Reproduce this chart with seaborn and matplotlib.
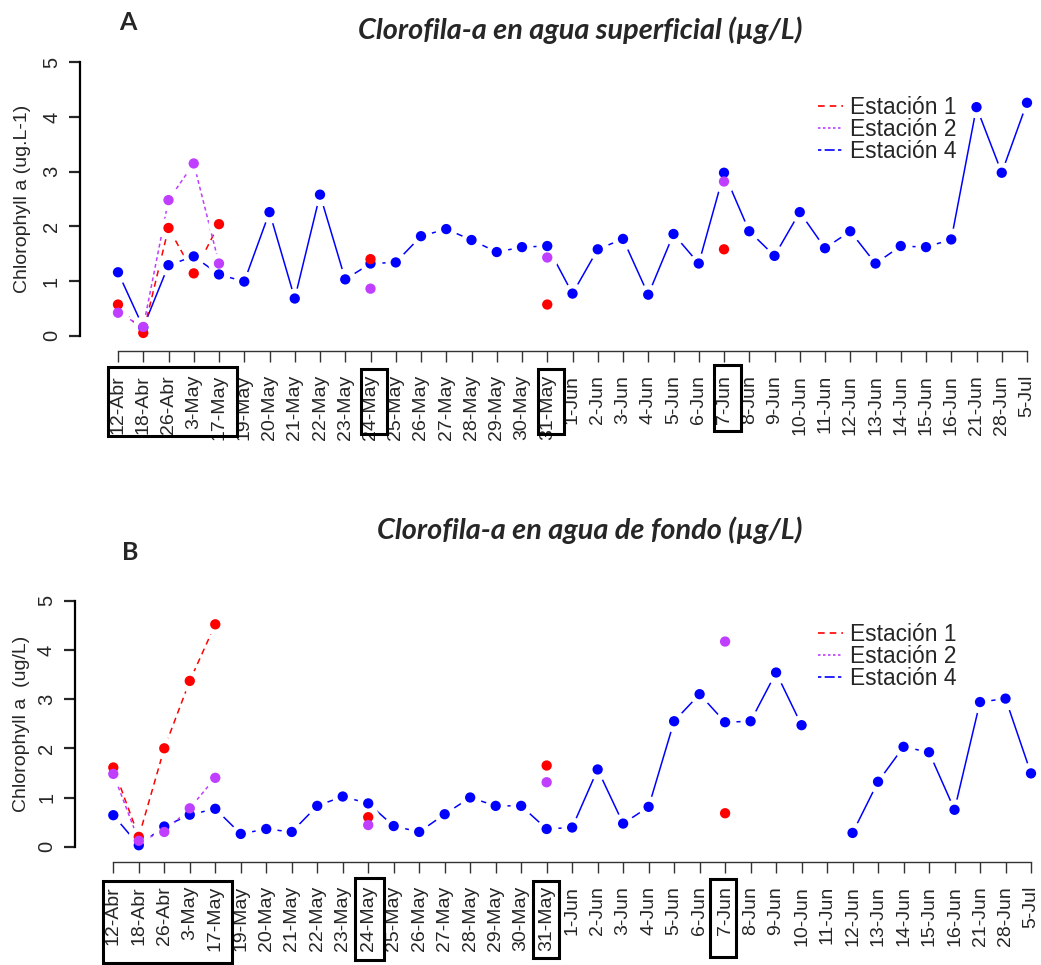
import numpy as np
import pandas as pd
import matplotlib
matplotlib.use("Agg")
import matplotlib.pyplot as plt
import matplotlib.transforms as mtransforms
from matplotlib.lines import Line2D
from matplotlib.patches import Rectangle
import seaborn as sns

nan = np.nan

dates = ["12-Abr", "18-Abr", "26-Abr", "3-May", "17-May", "19-May", "20-May",
         "21-May", "22-May", "23-May", "24-May", "25-May", "26-May", "27-May",
         "28-May", "29-May", "30-May", "31-May", "1-Jun", "2-Jun", "3-Jun",
         "4-Jun", "5-Jun", "6-Jun", "7-Jun", "8-Jun", "9-Jun", "10-Jun",
         "11-Jun", "12-Jun", "13-Jun", "14-Jun", "15-Jun", "16-Jun", "21-Jun",
         "28-Jun", "5-Jul"]

# Surface water (panel A)
sup_est1 = [0.57, 0.05, 1.97, 1.14, 2.04, nan, nan, nan, nan, nan, 1.40,
            nan, nan, nan, nan, nan, nan, 0.57, nan, nan, nan, nan, nan, nan,
            1.58, nan, nan, nan, nan, nan, nan, nan, nan, nan, nan, nan, nan]
sup_est2 = [0.42, 0.16, 2.48, 3.15, 1.32, nan, nan, nan, nan, nan, 0.86,
            nan, nan, nan, nan, nan, nan, 1.43, nan, nan, nan, nan, nan, nan,
            2.82, nan, nan, nan, nan, nan, nan, nan, nan, nan, nan, nan, nan]
sup_est4 = [1.16, 0.15, 1.29, 1.45, 1.12, 0.99, 2.26, 0.68, 2.58, 1.03, 1.32,
            1.34, 1.82, 1.95, 1.75, 1.53, 1.62, 1.64, 0.77, 1.58, 1.77, 0.75,
            1.86, 1.32, 2.98, 1.91, 1.46, 2.26, 1.60, 1.91, 1.32, 1.64, 1.62,
            1.76, 4.18, 2.98, 4.26]

# Bottom water (panel B)
fon_est1 = [1.61, 0.20, 2.00, 3.37, 4.52, nan, nan, nan, nan, nan, 0.60,
            nan, nan, nan, nan, nan, nan, 1.65, nan, nan, nan, nan, nan, nan,
            0.68, nan, nan, nan, nan, nan, nan, nan, nan, nan, nan, nan, nan]
fon_est2 = [1.48, 0.12, 0.30, 0.78, 1.40, nan, nan, nan, nan, nan, 0.44,
            nan, nan, nan, nan, nan, nan, 1.31, nan, nan, nan, nan, nan, nan,
            4.17, nan, nan, nan, nan, nan, nan, nan, nan, nan, nan, nan, nan]
fon_est4 = [0.64, 0.03, 0.41, 0.65, 0.77, 0.26, 0.36, 0.30, 0.83, 1.02, 0.88,
            0.42, 0.30, 0.66, 1.00, 0.83, 0.83, 0.36, 0.39, 1.57, 0.47, 0.81,
            2.55, 3.10, 2.53, 2.55, 3.54, 2.47, nan, 0.28, 1.32, 2.03, 1.92,
            0.75, 2.94, 3.01, 1.49]

station_labels = ["Estación 1", "Estación 2", "Estación 4"]
titles = ["Clorofila-a en agua superficial (µg/L)",
          "Clorofila-a en agua de fondo (µg/L)"]
ylabels = ["Chlorophyll a (ug.L-1)", "Chlorophyll a  (ug/L)"]
panel_letters = ["A", "B"]
yticks = [0, 1, 2, 3, 4, 5]

sns.set_style("ticks")
plt.rcParams["font.family"] = ["Liberation Sans", "DejaVu Sans"]

W, H = 1041, 965
fig = plt.figure(figsize=(W / 100, H / 100), dpi=100)

RED = "#FF0000"
PURPLE = "#BF3EFF"
BLUE = "#0000FF"
styles = {
    "Estación 1": dict(color=RED, ls=(0, (4, 3))),
    "Estación 2": dict(color=PURPLE, ls=(0, (2.5, 2))),
    "Estación 4": dict(color=BLUE, ls="-"),
}
legend_ls = {"Estación 1": (0, (4, 3)), "Estación 2": (0, (1.5, 1.5)),
             "Estación 4": (0, (2, 2, 6, 2))}

x = np.arange(len(dates))


def px2pt(p):
    return p * 0.72


def make_panel(rect_px, spine_px, series, title, title_px, ylabel, ylab_x,
               letter, letter_px, legend_px, boxes):
    x0, x36, y0, y5 = rect_px
    ax = fig.add_axes([x0 / W, 1 - y0 / H, (x36 - x0) / W, (y0 - y5) / H])
    df = pd.DataFrame({"x": x, **{k: v for k, v in zip(station_labels, series)}})
    long = df.melt(id_vars="x", var_name="station", value_name="chl")

    order = ["Estación 4", "Estación 1", "Estación 2"]
    for st in order:
        ax.plot(df["x"], df[st], color=styles[st]["color"], ls=styles[st]["ls"],
                lw=1.1, zorder=2, clip_on=False)
    # white halos emulate R's type="b" gaps between lines and points
    for st in order:
        ax.plot(df["x"], df[st], ls="none", marker="o", ms=px2pt(22),
                mfc="white", mec="none", zorder=3, clip_on=False)
    for i, st in enumerate(order):
        sub = long[long.station == st].dropna()
        sns.scatterplot(data=sub, x="x", y="chl", ax=ax,
                        color=styles[st]["color"], s=55, edgecolor="none",
                        zorder=4 + i, clip_on=False, legend=False)

    ax.set_xlim(0, 36)
    ax.set_ylim(0, 5)
    for s in ["top", "right"]:
        ax.spines[s].set_visible(False)
    ax.spines["left"].set_position(("outward", px2pt(x0 - spine_px[0])))
    ax.spines["left"].set_bounds(0, 5)
    ax.spines["left"].set_linewidth(1.6)
    ax.spines["left"].set_color("black")
    ax.spines["bottom"].set_position(("outward", px2pt(spine_px[1] - y0)))
    ax.spines["bottom"].set_bounds(0, 36)
    ax.spines["bottom"].set_linewidth(1.0)
    ax.spines["bottom"].set_color("#333333")

    ax.set_xticks(x)
    ax.set_xticklabels(dates, rotation=90, fontsize=14)
    ax.tick_params(axis="x", direction="out", length=px2pt(11), width=1.0,
                   color="#333333", pad=px2pt(13))
    ax.set_yticks(yticks)
    ax.set_yticklabels([str(t) for t in yticks], rotation=90, fontsize=14.5,
                       va="center")
    ax.tick_params(axis="y", direction="out", length=px2pt(11), width=1.6,
                   pad=px2pt(8))
    ax.set_xlabel("")
    ax.set_ylabel(ylabel, fontsize=14)
    ax.yaxis.set_label_coords((ylab_x - x0) / (x36 - x0), 0.5)

    fig.text(title_px[0] / W, 1 - title_px[1] / H, title, ha="center",
             va="center", fontsize=20.8, fontweight="bold", style="italic",
             family=["Lato", "DejaVu Sans"])
    fig.text(letter_px[0] / W, 1 - letter_px[1] / H, letter, ha="center",
             va="center", fontsize=18, fontweight="bold",
             family=["Lato", "DejaVu Sans"])

    handles = [Line2D([], [], color=styles[st]["color"], ls=legend_ls[st], lw=1.2)
               for st in station_labels]
    ax.legend(handles, station_labels, loc="upper left",
              bbox_to_anchor=(legend_px[0] / W, 1 - legend_px[1] / H),
              bbox_transform=fig.transFigure, frameon=False, fontsize=16.4,
              borderpad=0, borderaxespad=0, handlelength=1.1,
              handletextpad=0.3, labelspacing=-0.04)

    trans = mtransforms.blended_transform_factory(ax.transData, fig.transFigure)
    for bx0, bx1, by0, by1 in boxes:
        ax.add_patch(Rectangle((bx0, 1 - by1 / H), bx1 - bx0, (by1 - by0) / H,
                               transform=trans, fill=False, ec="black",
                               lw=2.2, clip_on=False, zorder=10))
    return ax


make_panel((118, 1027, 335.7, 62.3), (80, 351), [sup_est1, sup_est2, sup_est4],
           titles[0], (580, 30), ylabels[0], 31, panel_letters[0], (128, 22),
           (818, 96),
           [(-0.40, 4.71, 367, 436), (9.62, 10.65, 369, 434),
            (16.63, 17.66, 369, 434), (23.6, 24.67, 365, 431)])
make_panel((113.3, 1031, 846.7, 600.7), (75, 862), [fon_est1, fon_est2, fon_est4],
           titles[1], (590, 530), ylabels[1], 30, panel_letters[1], (130, 553),
           (818, 623),
           [(-0.40, 4.65, 881, 963), (9.5, 10.6, 878, 960),
            (16.46, 17.48, 881, 958), (23.4, 24.42, 879, 957)])

fig.savefig("out.png", dpi=100)
